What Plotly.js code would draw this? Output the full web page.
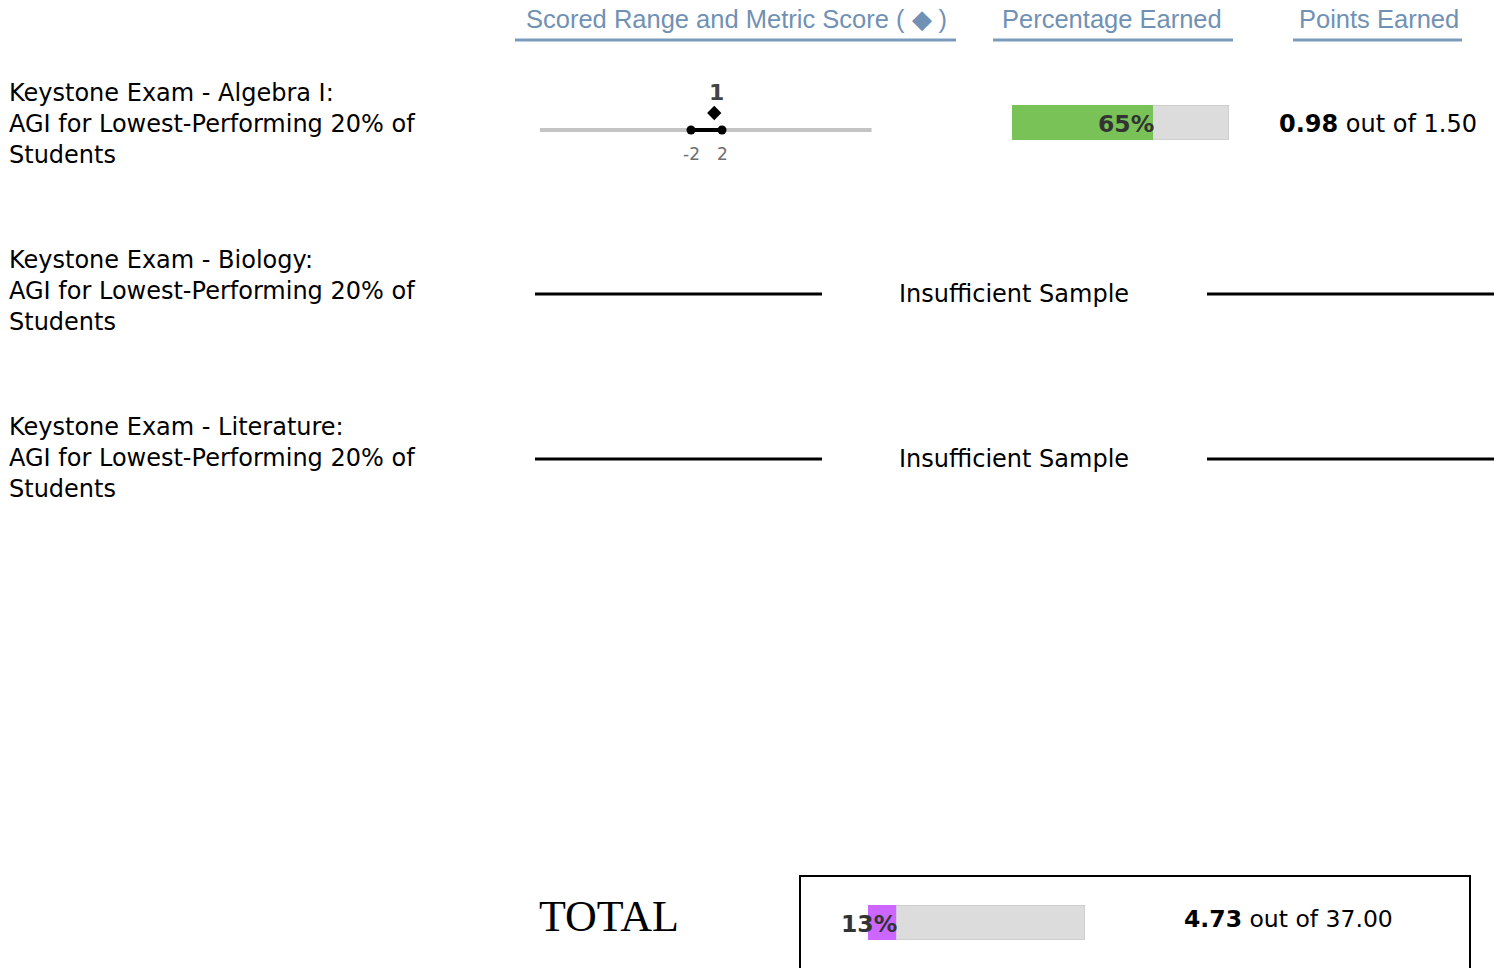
<!DOCTYPE html>
<html><head><meta charset="utf-8">
<script src="https://cdn.plot.ly/plotly-3.0.1.min.js"></script>
<style>html,body{margin:0;padding:0;background:#fff;overflow:hidden}#chart{width:1504px;height:968px;}</style>
</head><body><div id="chart"></div>
<script>
// ---------- DATA ----------
const headers = ["Scored Range and Metric Score ( \u25C6 )", "Percentage Earned", "Points Earned"];
const metricNames = [
  "Keystone Exam - Algebra I:<br>AGI for Lowest-Performing 20% of<br>Students",
  "Keystone Exam - Biology:<br>AGI for Lowest-Performing 20% of<br>Students",
  "Keystone Exam - Literature:<br>AGI for Lowest-Performing 20% of<br>Students"
];
const rangeLow = [-2, null, null];
const rangeHigh = [2, null, null];
const metricScore = [1, null, null];
const pctEarned = [65, null, null];
const pointsEarned = [0.98, null, null];
const pointsPossible = [1.50, null, null];
const scaleMin = -21.5, scaleMax = 21.3;
const totalLabel = "TOTAL";
const totalPct = 13;
const totalPoints = 4.73;
const totalPossible = 37.00;
const noDataText = "Insufficient Sample";

// ---------- LAYOUT HELPERS ----------
const W = 1504, H = 968;
const px = x => x / W, py = y => 1 - y / H;
const FONT = "'DejaVu Sans', Verdana, sans-serif";
const HFONT = "'Liberation Sans', Arial, sans-serif";
const HEAD = "#7191b4";
const rowLineY = [130, 294, 459];
const rowLabelY = [124, 291, 458];

const traces = [];
const annotations = [];
const shapes = [];

// headers
const headerSpec = [
  {cx: 736, u0: 515, u1: 956},
  {cx: 1112, u0: 993, u1: 1233},
  {cx: 1379, u0: 1293, u1: 1462}
];
headers.forEach((h, i) => {
  annotations.push({xref:'paper', yref:'paper', x: px(headerSpec[i].cx), y: py(19), xanchor:'center', yanchor:'middle',
    text: h, showarrow:false, font:{family:HFONT, size:25.5, color:HEAD}});
  shapes.push({type:'line', xref:'paper', yref:'paper', x0: px(headerSpec[i].u0), x1: px(headerSpec[i].u1),
    y0: py(40), y1: py(40), line:{color:'#7b9bbd', width:3}});
});

// row labels
metricNames.forEach((n, i) => {
  annotations.push({xref:'paper', yref:'paper', x: px(7), y: py(rowLabelY[i]), xanchor:'left', yanchor:'middle', align:'left',
    text: n, showarrow:false, font:{family:FONT, size:24, color:'#000'}});
});

const layout = {
  width: W, height: H, margin:{l:0, r:0, t:0, b:0}, paper_bgcolor:'#fff', plot_bgcolor:'rgba(0,0,0,0)',
  showlegend:false, barmode:'overlay', font:{family:FONT}
};
const hid = {visible:false, fixedrange:true};

let axisN = 0;
function addAxes(xdom, xr, ydom, yr) {
  axisN++;
  const xs = axisN === 1 ? 'xaxis' : 'xaxis' + axisN;
  const ys = axisN === 1 ? 'yaxis' : 'yaxis' + axisN;
  const xa = axisN === 1 ? 'x' : 'x' + axisN;
  const ya = axisN === 1 ? 'y' : 'y' + axisN;
  layout[xs] = Object.assign({domain: xdom, range: xr, anchor: ya}, hid);
  layout[ys] = Object.assign({domain: ydom, range: yr, anchor: xa}, hid);
  return [xa, ya];
}

function pctBar(xa, ya, pct, color) {
  traces.push({type:'bar', orientation:'h', x:[100], y:[0], width:[1], xaxis:xa, yaxis:ya,
    marker:{color:'#dcdcdc', line:{color:'#c2c2c2', width:1}}, hoverinfo:'skip', cliponaxis:false});
  traces.push({type:'bar', orientation:'h', x:[pct], y:[0], width:[1], xaxis:xa, yaxis:ya,
    marker:{color:color, line:{width:0}}, hoverinfo:'skip', textposition:'none', cliponaxis:false});
  annotations.push({xref:xa, yref:ya, x:pct, y:0, xanchor:'right', yanchor:'middle', xshift:3, yshift:-1,
    text:'<b>' + pct + '%</b>', showarrow:false, font:{family:FONT, size:23.5, color:'#333'}});
}

metricNames.forEach((n, i) => {
  const yc = rowLineY[i];
  if (metricScore[i] === null) {
    shapes.push({type:'line', xref:'paper', yref:'paper', x0:px(535), x1:px(822), y0:py(yc), y1:py(yc), line:{color:'#000', width:3}});
    shapes.push({type:'line', xref:'paper', yref:'paper', x0:px(1207), x1:px(1494), y0:py(yc), y1:py(yc), line:{color:'#000', width:3}});
    annotations.push({xref:'paper', yref:'paper', x:px(1014), y:py(yc), xanchor:'center', yanchor:'middle',
      text:noDataText, showarrow:false, font:{family:FONT, size:24, color:'#000'}});
    return;
  }
  // scored range: 10 px per y unit, 0 at row line
  const [xa, ya] = addAxes([px(536), px(877)], [-22, 22], [py(yc + 10), py(yc - 30)], [-1, 3]);
  traces.push({type:'scatter', mode:'lines', x:[scaleMin, scaleMax], y:[0, 0], xaxis:xa, yaxis:ya,
    line:{color:'#c4c4c4', width:4}, hoverinfo:'skip', cliponaxis:false});
  traces.push({type:'scatter', mode:'lines+markers', x:[rangeLow[i], rangeHigh[i]], y:[0, 0], xaxis:xa, yaxis:ya,
    line:{color:'#000', width:4}, marker:{color:'#000', size:9}, hoverinfo:'skip', cliponaxis:false});
  traces.push({type:'scatter', mode:'markers', x:[metricScore[i]], y:[1.7], xaxis:xa, yaxis:ya,
    marker:{color:'#000', size:11, symbol:'diamond', line:{width:0}}, hoverinfo:'skip', cliponaxis:false});
  annotations.push({xref:xa, yref:ya, x:metricScore[i], y:0, yshift:38, xshift:2, xanchor:'center', yanchor:'middle',
    text:'<b>' + metricScore[i] + '</b>', showarrow:false, font:{family:FONT, size:22, color:'#444'}});
  [rangeLow[i], rangeHigh[i]].forEach(v => {
    annotations.push({xref:xa, yref:ya, x:v, y:0, yshift:-24, xanchor:'center', yanchor:'middle',
      text:String(v), showarrow:false, font:{family:FONT, size:17, color:'#6e6e6e'}});
  });
  // percentage
  const [xb, yb] = addAxes([px(1012), px(1229)], [0, 100], [py(yc + 10), py(yc - 25)], [-0.5, 0.5]);
  pctBar(xb, yb, pctEarned[i], '#78c257');
  // points
  annotations.push({xref:'paper', yref:'paper', x:px(1378), y:py(yc - 6), xanchor:'center', yanchor:'middle',
    text:'<b>' + pointsEarned[i].toFixed(2) + '</b> out of ' + pointsPossible[i].toFixed(2), showarrow:false,
    font:{family:FONT, size:24, color:'#000'}});
});

// total
annotations.push({xref:'paper', yref:'paper', x:px(537), y:py(916), xanchor:'left', yanchor:'middle',
  text:totalLabel, showarrow:false, font:{family:"'Liberation Serif', 'Times New Roman', serif", size:44, color:'#000'}});
shapes.push({type:'rect', xref:'paper', yref:'paper', x0:px(800), x1:px(1470), y0:-0.05, y1:py(876), line:{color:'#000', width:2}});
const [xt, yt] = addAxes([px(868), px(1085)], [0, 100], [py(940), py(905)], [-0.5, 0.5]);
pctBar(xt, yt, totalPct, '#cc66ff');
annotations.push({xref:'paper', yref:'paper', x:px(1288), y:py(919), xanchor:'center', yanchor:'middle',
  text:'<b>' + totalPoints.toFixed(2) + '</b> out of ' + totalPossible.toFixed(2), showarrow:false,
  font:{family:FONT, size:23.5, color:'#000'}});

layout.annotations = annotations;
layout.shapes = shapes;
Plotly.newPlot('chart', traces, layout, {displayModeBar:false, staticPlot:true});
</script></body></html>
